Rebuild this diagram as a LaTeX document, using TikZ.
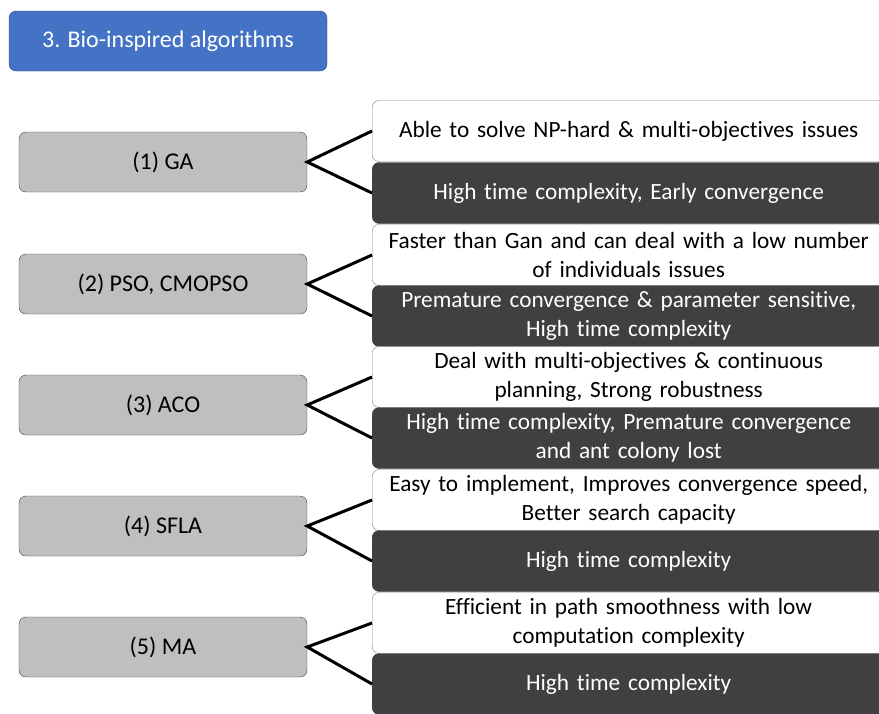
\documentclass[tikz,border=0pt]{standalone}
\usepackage{fontspec}
\setmainfont{Carlito}[Ligatures=NoCommon]
\usepackage{xcolor}
\usetikzlibrary{positioning}

\definecolor{titleblue}{HTML}{4472C4}
\definecolor{titleedge}{HTML}{2F4F8A}
\definecolor{algogray}{HTML}{BFBFBF}
\definecolor{darkbox}{HTML}{404040}

\begin{document}
\begin{tikzpicture}[x=1pt, y=-1pt,
  every node/.style={inner sep=0pt, align=center},
  title/.style={draw=titleedge, fill=titleblue, text=white, rounded corners=7pt,
    minimum width=318pt, minimum height=60pt, font=\fontsize{24}{29}\selectfont},
  algo/.style={draw=black!75, fill=algogray, rounded corners=7pt,
    minimum width=288pt, minimum height=60pt, font=\fontsize{24}{29}\selectfont},
  pro/.style={draw=black!50, fill=white, rounded corners=7pt, anchor=west,
    minimum width=513pt, minimum height=61pt, text width=510pt,
    font=\fontsize{23.3}{29}\selectfont},
  con/.style={pro, draw=darkbox, fill=darkbox, text=white},
  link/.style={line width=3pt}]

\useasboundingbox (0,0) rectangle (879,713);

\node[title] (T) at (168,41) {3. Bio-inspired algorithms};

% algorithms
\node[algo] (A1) at (163,162) {(1) GA};
\node[algo] (A2) at (163,284) {(2) PSO, CMOPSO};
\node[algo] (A3) at (163,405) {(3) ACO};
\node[algo] (A4) at (163,526) {(4) SFLA};
\node[algo] (A5) at (163,647) {(5) MA};

% advantages / drawbacks
\node[pro] (P1) at (372,131) {Able to solve NP-hard \& multi-objectives issues};
\node[con] (C1) at (372,193) {High time complexity, Early convergence};
\node[pro] (P2) at (372,255) {Faster than Gan and can deal with a low number\\of individuals issues};
\node[con] (C2) at (372,316) {Premature convergence \& parameter sensitive,\\High time complexity};
\node[pro] (P3) at (372,377) {Deal with multi-objectives \& continuous\\planning, Strong robustness};
\node[con] (C3) at (372,438) {High time complexity, Premature convergence\\and ant colony lost};
\node[pro] (P4) at (372,500) {Easy to implement, Improves convergence speed,\\Better search capacity};
\node[con] (C4) at (372,561) {High time complexity};
\node[pro] (P5) at (372,623) {Efficient in path smoothness with low\\computation complexity};
\node[con] (C5) at (372,684) {High time complexity};

\draw[link] (P1.west) -- (A1.east) -- (C1.west);
\draw[link] (P2.west) -- (A2.east) -- (C2.west);
\draw[link] (P3.west) -- (A3.east) -- (C3.west);
\draw[link] (P4.west) -- (A4.east) -- (C4.west);
\draw[link] (P5.west) -- (A5.east) -- (C5.west);
\end{tikzpicture}
\end{document}
